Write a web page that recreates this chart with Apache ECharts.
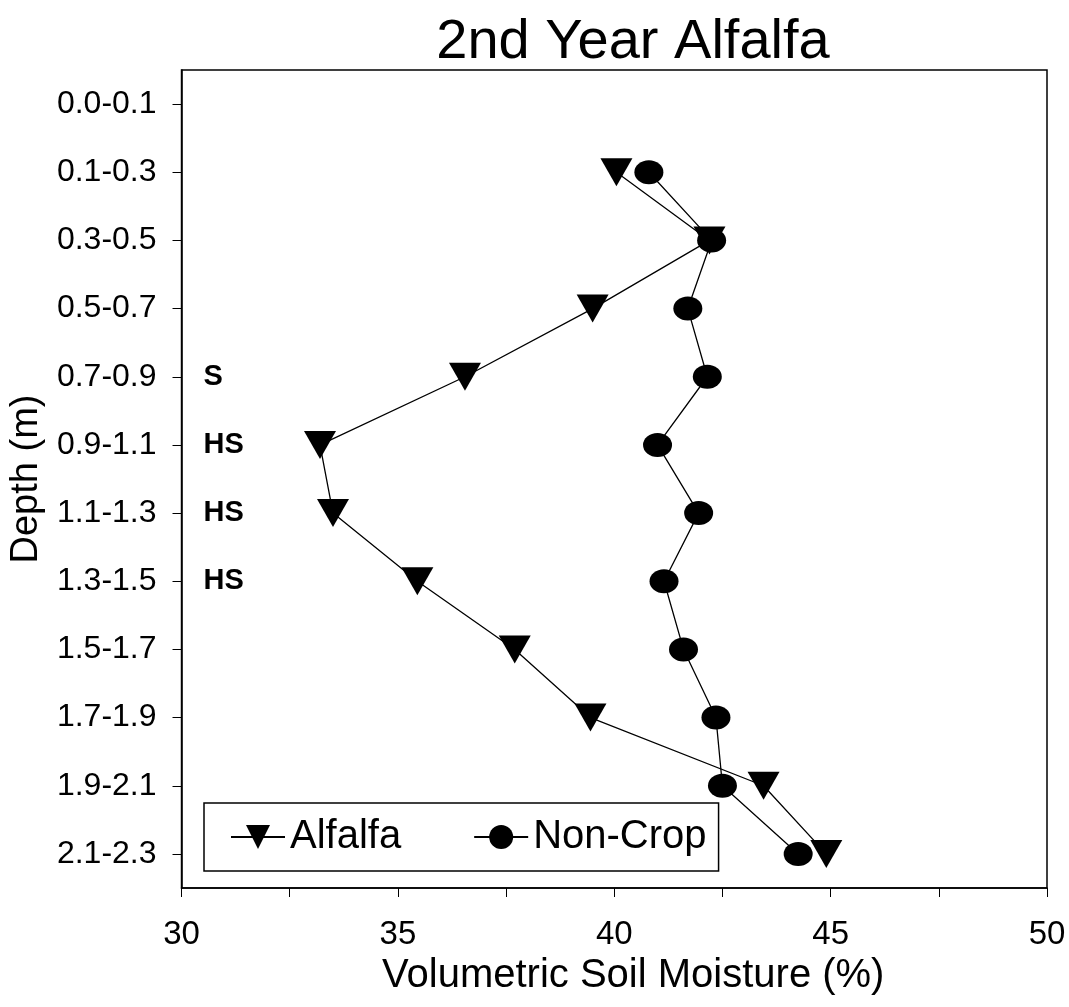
<!DOCTYPE html>
<html>
<head>
<meta charset="utf-8">
<script src="https://cdn.jsdelivr.net/npm/echarts@6/dist/echarts.min.js"></script>
<style>
html,body{margin:0;padding:0;background:#fff;}
#chart{width:1069px;height:1007px;}
</style>
</head>
<body>
<div id="chart"></div>
<script>
const depthCategories = ['0.0-0.1','0.1-0.3','0.3-0.5','0.5-0.7','0.7-0.9','0.9-1.1','1.1-1.3','1.3-1.5','1.5-1.7','1.7-1.9','1.9-2.1','2.1-2.3'];
const alfalfaValues = [null, 40.05, 42.2, 39.5, 36.55, 33.2, 33.5, 35.45, 37.7, 39.45, 43.45, 44.9];
const nonCropValues = [null, 40.8, 42.25, 41.7, 42.15, 41.0, 41.95, 41.15, 41.6, 42.35, 42.5, 44.25];
const annotationCategories = ['0.7-0.9','0.9-1.1','1.1-1.3','1.3-1.5'];
const annotationTexts = ['S','HS','HS','HS'];
const xTickValues = [30, 35, 40, 45, 50];

const FONT = '"Liberation Sans", Arial, sans-serif';
const chart = echarts.init(document.getElementById('chart'), null, {renderer:'canvas'});

function pairs(vals){ return vals.map((v,i)=>[v, depthCategories[i]]); }

const option = {
  backgroundColor:'#fff',
  animation:false,
  title:{
    text:'2nd Year Alfalfa',
    left:628, top:10, textAlign:'center',
    textStyle:{fontFamily:FONT,fontSize:56,fontWeight:'normal',color:'#000'}
  },
  grid:{left:181,right:22,top:70,bottom:119,show:true,borderColor:'#000',borderWidth:1.5,backgroundColor:'transparent'},
  legend:{
    data:['Alfalfa','Non-Crop'],
    left:204, top:803,
    orient:'horizontal',
    borderColor:'#000', borderWidth:1.5,
    padding:[14,12,14,26],
    itemGap:72, itemWidth:54, itemHeight:30,
    textStyle:{fontFamily:FONT,fontSize:40,color:'#000'}
  },
  xAxis:{
    type:'value', min:30, max:50, interval:2.5,
    name:'Volumetric Soil Moisture (%)',
    nameLocation:'middle', nameGap:58,
    nameTextStyle:{fontFamily:FONT,fontSize:40,color:'#000',padding:[0,0,0,38]},
    axisLine:{show:true,lineStyle:{color:'#000',width:1.5}},
    axisTick:{show:true,inside:false,length:9,lineStyle:{color:'#000',width:1}},
    axisLabel:{
      fontFamily:FONT,fontSize:33,color:'#000',margin:30,
      formatter:function(v){ return xTickValues.indexOf(v) >= 0 ? String(v) : ''; }
    },
    splitLine:{show:false}
  },
  yAxis:{
    type:'category', data:depthCategories, inverse:true, boundaryGap:true,
    name:'Depth (m)',
    nameLocation:'middle', nameGap:119, nameRotate:90,
    nameTextStyle:{fontFamily:FONT,fontSize:38,color:'#000'},
    axisLine:{show:true,lineStyle:{color:'#000',width:1.5}},
    axisTick:{show:true,alignWithLabel:true,length:9,lineStyle:{color:'#000',width:1}},
    axisLabel:{fontFamily:FONT,fontSize:32,color:'#000',margin:25},
    splitLine:{show:false}
  },
  series:[
    {
      name:'Alfalfa', type:'line', data:pairs(alfalfaValues),
      symbol:'triangle', symbolRotate:180, symbolSize:[32,28],
      lineStyle:{color:'#000',width:1.3},
      itemStyle:{color:'#000'},
      connectNulls:false, z:3
    },
    {
      name:'Non-Crop', type:'line', data:pairs(nonCropValues),
      symbol:'circle', symbolSize:[29,24],
      lineStyle:{color:'#000',width:1.3},
      itemStyle:{color:'#000'},
      connectNulls:false, z:2
    },
    {
      name:'annotations', type:'scatter',
      data:annotationCategories.map((c,i)=>({value:[30,c], label:{formatter:annotationTexts[i]}})),
      symbolSize:0,
      itemStyle:{opacity:1,color:'#000'},
      label:{show:true,position:'right',distance:22,fontFamily:FONT,fontSize:29,fontWeight:'bold',color:'#000',opacity:1,textBorderWidth:0},
      silent:true, z:4
    }
  ]
};
chart.setOption(option);
</script>
</body>
</html>
